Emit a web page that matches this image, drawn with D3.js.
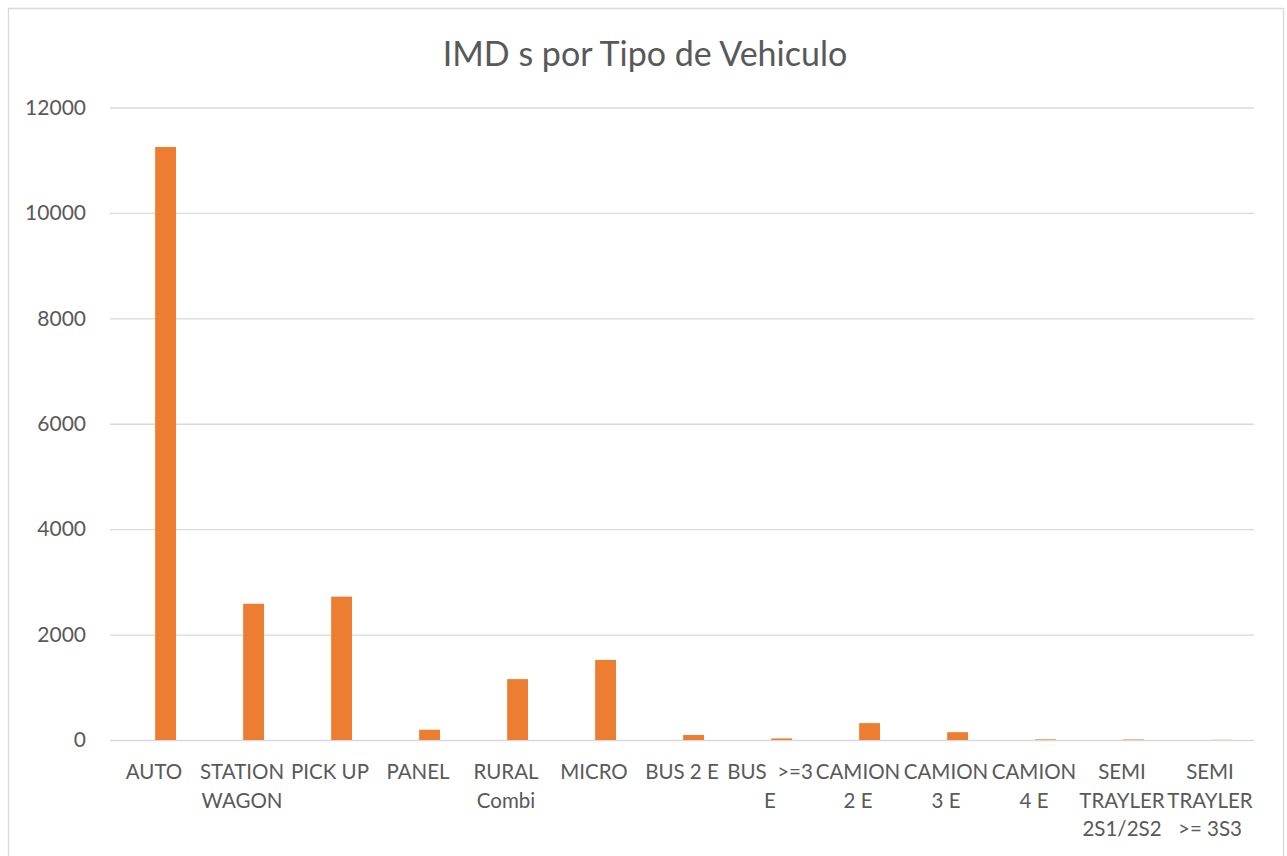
<!DOCTYPE html>
<html>
<head>
<meta charset="utf-8">
<script src="https://cdn.jsdelivr.net/npm/d3@7"></script>
<style>
  body { margin: 0; background: #fff; }
  svg { display: block; }
  text { font-family: Lato, 'Noto Sans', sans-serif; fill: #595959; }
</style>
</head>
<body>
<svg id="chart"></svg>
<script>
//chart data
let categories = ['AUTO', 'STATION\nWAGON', 'PICK UP', 'PANEL', 'RURAL\nCombi', 'MICRO', 'BUS 2 E',
  'BUS \u00a0>=3\nE', 'CAMION\n2 E', 'CAMION\n3 E', 'CAMION\n4 E', 'SEMI\nTRAYLER\n2S1/2S2', 'SEMI\nTRAYLER\n>= 3S3']
let imdValues = [11250, 2585, 2720, 195, 1155, 1520, 95, 30, 320, 148, 12, 10, 3]
let yTicks = [0, 2000, 4000, 6000, 8000, 10000, 12000]
let chartTitle = 'IMD s por Tipo de Vehiculo'

//outer size and plotting region
let outerWidth = 1287
let outerHeight = 856
let margins = { top: 107.5, bottom: 116, left: 110, right: 33 }
let innerWidth = outerWidth - margins.left - margins.right
let innerHeight = outerHeight - margins.top - margins.bottom

let svg = d3.select('svg#chart')
  .attr('width', outerWidth)
  .attr('height', outerHeight)

//chart border (bottom edge runs past the picture, as in the original)
svg.append('path')
  .attr('d', 'M8.5,' + outerHeight + 'V8.5H1283.5V' + outerHeight)
  .attr('fill', 'none')
  .attr('stroke', '#d9d9d9')
  .attr('stroke-width', 1.3)

let inner = svg.append('g')
  .attr('transform', 'translate(' + margins.left + ',' + margins.top + ')')

//scales
let xScale = d3.scaleBand()
  .domain(categories)
  .range([0, innerWidth])
  .paddingInner(0.5)
  .paddingOuter(0.25)

//the bar sits in the right half of each group (like an Excel chart with an empty first series)
let subScale = d3.scaleBand()
  .domain(['vacia', 'IMD'])
  .range([0, xScale.bandwidth()])
  .paddingInner(0.1)

let yScale = d3.scaleLinear()
  .domain([0, 12000])
  .range([innerHeight, 0])

//gridlines
let yAxis = d3.axisLeft(yScale)
  .tickValues(yTicks)
  .tickFormat(d3.format('d'))
  .tickSize(-innerWidth)
  .tickPadding(24)

inner.append('g')
  .attr('class', 'y axis')
  .call(yAxis)
  .call(g => g.select('.domain').remove())
  .call(g => g.selectAll('.tick line').attr('stroke', '#d9d9d9').attr('stroke-width', 1.3))
  .call(g => g.selectAll('.tick text')
    .attr('font-size', 21)
    .attr('fill', '#595959')
    .attr('font-family', 'Lato, sans-serif'))

//bars
inner.selectAll('rect.bar')
  .data(imdValues)
  .enter()
  .append('rect')
  .attr('class', 'bar')
  .attr('x', (d, i) => xScale(categories[i]) + subScale('IMD'))
  .attr('y', d => yScale(d))
  .attr('width', subScale.bandwidth())
  .attr('height', d => innerHeight - yScale(d))
  .attr('fill', '#ed7d31')

//category labels (wrapped)
let labels = inner.selectAll('text.cat')
  .data(categories)
  .enter()
  .append('text')
  .attr('class', 'cat')
  .attr('text-anchor', 'middle')
  .attr('font-size', 20.5)
  .attr('transform', d => 'translate(' + (xScale(d) + xScale.bandwidth() / 2) + ',' + (innerHeight + 39) + ')')

labels.selectAll('tspan')
  .data(d => d.split('\n'))
  .enter()
  .append('tspan')
  .attr('x', 0)
  .attr('y', (d, i) => i * 28.5)
  .text(d => d)

//title
svg.append('text')
  .attr('x', 645)
  .attr('y', 66)
  .attr('text-anchor', 'middle')
  .attr('font-size', 34)
  .text(chartTitle)
</script>
</body>
</html>
